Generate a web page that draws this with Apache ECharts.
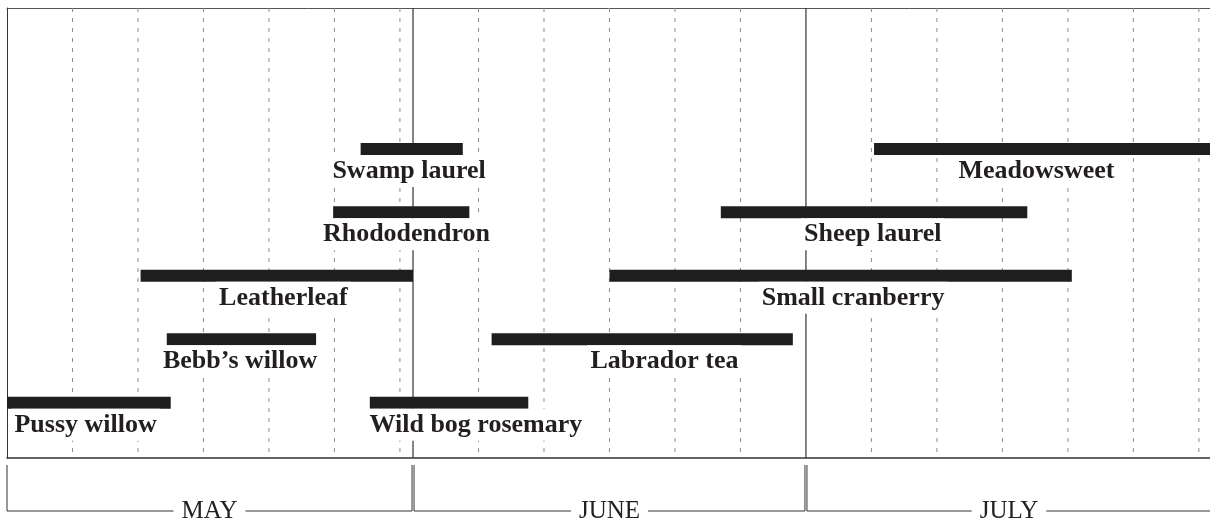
<!DOCTYPE html>
<html>
<head>
<meta charset="utf-8">
<script src="https://cdn.jsdelivr.net/npm/echarts@6/dist/echarts.min.js"></script>
<style>
  html, body { margin: 0; padding: 0; background: #fff; }
  #chart { width: 1210px; height: 524px; }
</style>
</head>
<body>
<div id="chart"></div>
<script>
// days counted from the start of May (May 0-31, June 31-61, July 61-92)
const plants = ['Pussy willow', 'Bebb’s willow', 'Leatherleaf', 'Rhododendron', 'Swamp laurel',
  'Wild bog rosemary', 'Labrador tea', 'Small cranberry', 'Sheep laurel', 'Meadowsweet']
const plantRow = [1, 2, 3, 4, 5, 1, 2, 3, 4, 5]
const bloomStart = [0, 12.2, 10.2, 24.9, 27, 27.7, 37, 46, 54.5, 66.2]
const bloomEnd = [12.5, 23.6, 31, 35.3, 34.8, 39.8, 60, 81.3, 77.9, 95]
// where the name sits under each bar
const labelAt = [6, 17.8, 21.1, 30.5, 30.7, 35.8, 50.2, 64.6, 66.1, 78.6]

const months = ['MAY', 'JUNE', 'JULY']
const monthStart = [0, 31, 61]
const monthEnd = [31, 61, 92]
const fiveDayTicks = [5, 10, 15, 20, 25, 30, 36, 41, 46, 51, 56, 66, 71, 76, 81, 86, 91]

const ink = '#231f20'
const labelFont = 'bold 26px "Liberation Serif", "Times New Roman", serif'
const monthFont = '25px "Liberation Serif", "Times New Roman", serif'

const chart = echarts.init(document.getElementById('chart'))

// vertical line across the whole plot at a day value
const vline = (color, width, type) => (params, api) => {
  const cs = params.coordSys
  const x = api.coord([api.value(0), 1])[0]
  return {
    type: 'line',
    shape: { x1: x, y1: cs.y, x2: x, y2: cs.y + cs.height },
    style: { stroke: color, lineWidth: width, lineDash: type },
  }
}

const option = {
  animation: false,
  // the picture is cut off just before the end of July
  grid: { left: 7, top: 8, right: 0, bottom: 66 },
  xAxis: [
    {
      type: 'value', min: 0, max: 91.85, position: 'bottom',
      axisLine: { show: true, onZero: false, lineStyle: { color: '#333', width: 1.5 } },
      axisTick: { show: false }, axisLabel: { show: false }, splitLine: { show: false },
    },
    {
      type: 'value', min: 0, max: 91.85, position: 'top',
      axisLine: { show: true, onZero: false, lineStyle: { color: '#555', width: 1 } },
      axisTick: { show: false }, axisLabel: { show: false }, splitLine: { show: false },
    },
  ],
  yAxis: {
    type: 'value', min: 0.13, max: 7.22,
    axisLine: { show: true, onZero: false, lineStyle: { color: '#333', width: 1 } },
    axisTick: { show: false }, axisLabel: { show: false }, splitLine: { show: false },
  },
  series: [
    {
      // five-day guides
      type: 'custom', z: 1, silent: true,
      data: fiveDayTicks.map(d => [d]),
      renderItem: vline('#8c8c8c', 1, [4, 6]),
    },
    {
      // month boundaries
      type: 'custom', z: 1, silent: true,
      data: monthStart.slice(1).map(d => [d]),
      renderItem: vline('#333', 1.2, null),
    },
    {
      type: 'custom', z: 3, silent: true, clip: false,
      data: plants.map((p, i) => [bloomStart[i], bloomEnd[i], plantRow[i], labelAt[i]]),
      renderItem: (params, api) => {
        const a = api.coord([api.value(0), api.value(2)])
        const b = api.coord([api.value(1), api.value(2)])
        const c = api.coord([api.value(3), api.value(2)])
        return {
          type: 'group',
          children: [
            { type: 'rect', shape: { x: a[0], y: a[1] - 6, width: b[0] - a[0], height: 12 }, style: { fill: '#1e1e1e' } },
            {
              type: 'text',
              style: {
                text: plants[params.dataIndex], x: c[0], y: a[1] + 22,
                align: 'center', verticalAlign: 'middle', font: labelFont, fill: ink,
                lineHeight: 28, backgroundColor: '#fff', padding: [2, 3],
              },
            },
          ],
        }
      },
    },
    {
      // month brackets under the plot
      type: 'custom', z: 3, silent: true, clip: false,
      data: months.map((m, i) => [monthStart[i], monthEnd[i]]),
      renderItem: (params, api) => {
        const cs = params.coordSys
        const i = params.dataIndex
        const x1 = api.coord([api.value(0), 1])[0] + (i > 0 ? 1 : 0)
        const x2 = api.coord([api.value(1), 1])[0] - 1
        const yTop = cs.y + cs.height + 7
        const yLine = cs.y + cs.height + 53
        const stroke = { stroke: '#333', lineWidth: 1 }
        return {
          type: 'group',
          children: [
            { type: 'line', shape: { x1: x1, y1: yTop, x2: x1, y2: yLine }, style: stroke },
            { type: 'line', shape: { x1: x2, y1: yTop, x2: x2, y2: yLine }, style: stroke },
            { type: 'line', shape: { x1: x1, y1: yLine, x2: x2, y2: yLine }, style: stroke },
            {
              type: 'text', z2: 10,
              style: {
                text: months[i], x: (x1 + x2) / 2, y: yLine + 0.5,
                align: 'center', verticalAlign: 'middle', font: monthFont, fill: ink,
                backgroundColor: '#fff', padding: [0, 8],
              },
            },
          ],
        }
      },
    },
  ],
}

chart.setOption(option)
window.addEventListener('resize', () => chart.resize())
</script>
</body>
</html>
